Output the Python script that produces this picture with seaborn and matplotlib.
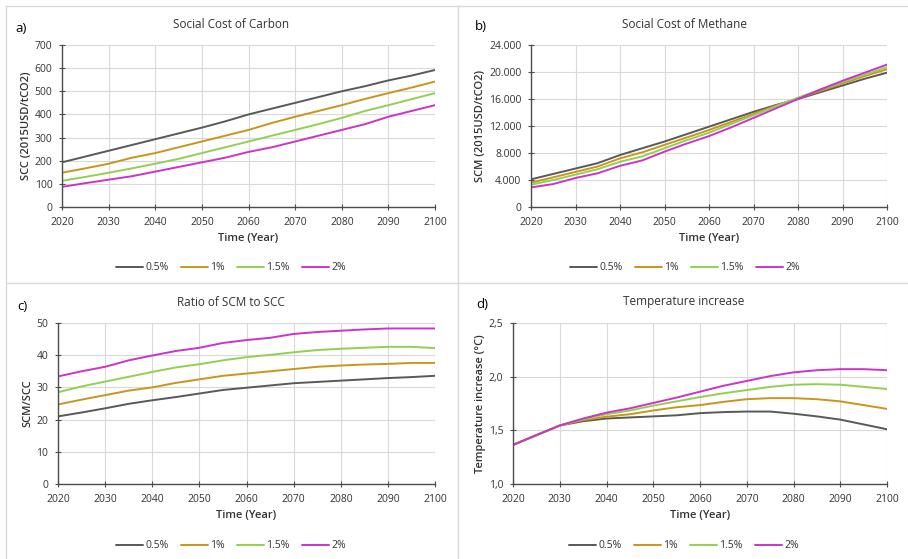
import matplotlib
matplotlib.use("Agg")
import matplotlib.pyplot as plt
import numpy as np
import pandas as pd
import seaborn as sns
from matplotlib.lines import Line2D
from matplotlib.ticker import FuncFormatter

years = list(range(2020, 2101, 5))
scenarios = ["0.5%", "1%", "1.5%", "2%"]

scc_05 = [193, 218, 243, 268, 293, 318, 343, 370, 400, 425, 450, 475, 500, 522, 547, 568, 592]
scc_10 = [148, 167, 187, 213, 233, 258, 283, 308, 333, 363, 390, 415, 440, 467, 492, 516, 542]
scc_15 = [113, 130, 148, 167, 187, 208, 233, 258, 283, 308, 333, 358, 385, 415, 440, 466, 492]
scc_20 = [87, 103, 118, 133, 153, 173, 193, 213, 238, 258, 283, 308, 333, 358, 390, 415, 440]

scm_05 = [4100, 4900, 5700, 6500, 7700, 8700, 9700, 10800, 11900, 13000, 14100, 15100, 16000, 17000, 18000, 19000, 19900]
scm_10 = [3600, 4400, 5200, 6000, 7200, 8100, 9200, 10300, 11400, 12600, 13800, 15000, 16100, 17200, 18300, 19400, 20400]
scm_15 = [3300, 4000, 4800, 5600, 6700, 7500, 8700, 9900, 11000, 12300, 13600, 14900, 16200, 17400, 18500, 19600, 20700]
scm_20 = [2900, 3400, 4300, 5000, 6100, 6900, 8200, 9400, 10500, 11800, 13200, 14600, 16000, 17400, 18700, 19900, 21100]

ratio_05 = [21.0, 22.2, 23.5, 24.9, 26.0, 27.0, 28.1, 29.2, 29.9, 30.6, 31.3, 31.7, 32.1, 32.5, 32.9, 33.2, 33.6]
ratio_10 = [24.7, 26.2, 27.6, 29.0, 30.0, 31.4, 32.5, 33.6, 34.3, 35.0, 35.7, 36.4, 36.8, 37.1, 37.3, 37.6, 37.6]
ratio_15 = [28.5, 30.3, 31.8, 33.3, 34.8, 36.2, 37.2, 38.4, 39.4, 40.1, 40.9, 41.6, 42.0, 42.3, 42.6, 42.6, 42.2]
ratio_20 = [33.4, 35.0, 36.4, 38.4, 39.9, 41.3, 42.3, 43.8, 44.7, 45.4, 46.6, 47.2, 47.6, 48.0, 48.3, 48.3, 48.3]

temp_05 = [1.364, 1.455, 1.545, 1.585, 1.61, 1.62, 1.63, 1.64, 1.66, 1.67, 1.675, 1.675, 1.655, 1.63, 1.60, 1.555, 1.51]
temp_10 = [1.364, 1.455, 1.545, 1.595, 1.627, 1.65, 1.685, 1.715, 1.735, 1.765, 1.79, 1.80, 1.80, 1.79, 1.77, 1.735, 1.70]
temp_15 = [1.364, 1.455, 1.545, 1.605, 1.65, 1.685, 1.73, 1.77, 1.81, 1.845, 1.875, 1.905, 1.925, 1.93, 1.925, 1.905, 1.885]
temp_20 = [1.364, 1.455, 1.545, 1.61, 1.665, 1.705, 1.755, 1.805, 1.86, 1.915, 1.96, 2.005, 2.04, 2.06, 2.07, 2.07, 2.06]

palette = {"0.5%": "#595959", "1%": "#C9961A", "1.5%": "#92D050", "2%": "#CC33CC"}

sns.set_theme(style="white")
plt.rcParams["font.family"] = ["Open Sans", "DejaVu Sans"]

W, H = 908, 559
fig = plt.figure(figsize=(W / 100, H / 100), dpi=100)


def rect(x0, y0, x1, y1):
    return [x0 / W, 1 - y1 / H, (x1 - x0) / W, (y1 - y0) / H]


def long_df(series):
    rows = []
    for name, vals in zip(scenarios, series):
        for yr, v in zip(years, vals):
            rows.append({"year": yr, "value": v, "scenario": name})
    return pd.DataFrame(rows)


panels = [
    dict(series=[scc_05, scc_10, scc_15, scc_20], box=(62, 45, 435, 207), ylim=(0, 700), step=100,
         fmt=lambda v, p: f"{v:.0f}", ylabel="SCC (2015USD/tCO2)", title="Social Cost of Carbon",
         tag="a)", tx=231, ty=24, lx=21, ly=28, legy=268),
    dict(series=[scm_05, scm_10, scm_15, scm_20], box=(531, 45, 887, 207), ylim=(0, 24000), step=4000,
         fmt=lambda v, p: f"{v:,.0f}".replace(",", "."), ylabel="SCM (2015USD/tCO2)",
         title="Social Cost of Methane", tag="b)", tx=685, ty=24, lx=481, ly=26, legy=268),
    dict(series=[ratio_05, ratio_10, ratio_15, ratio_20], box=(58, 323, 435, 484), ylim=(0, 50), step=10,
         fmt=lambda v, p: f"{v:.0f}", ylabel="SCM/SCC", title="Ratio of SCM to SCC",
         tag="c)", tx=231, ty=303, lx=22, ly=306, legy=546),
    dict(series=[temp_05, temp_10, temp_15, temp_20], box=(513, 323, 887, 484), ylim=(1.0, 2.5), step=0.5,
         fmt=lambda v, p: f"{v:.1f}".replace(".", ","), ylabel="Temperature increase (°C)",
         title="Temperature increase", tag="d)", tx=684, ty=302, lx=482, ly=305, legy=546),
]

text_col = "#333333"
for pn in panels:
    ax = fig.add_axes(rect(*pn["box"]))
    df = long_df(pn["series"])
    sns.lineplot(data=df, x="year", y="value", hue="scenario", palette=palette,
                 hue_order=scenarios, linewidth=1.4, legend=False, ax=ax)
    ax.set_xlim(2020, 2100)
    ax.set_ylim(*pn["ylim"])
    ax.set_xticks(range(2020, 2101, 10))
    ax.set_yticks(np.arange(pn["ylim"][0], pn["ylim"][1] + pn["step"] / 2, pn["step"]))
    ax.yaxis.set_major_formatter(FuncFormatter(pn["fmt"]))
    ax.grid(True, color="#D9D9D9", linewidth=0.8)
    for s in ["top", "right"]:
        ax.spines[s].set_visible(False)
    for s in ["left", "bottom"]:
        ax.spines[s].set_color("#4D4D4D")
        ax.spines[s].set_linewidth(1.0)
    ax.tick_params(axis="both", which="major", direction="inout", length=4, width=0.8,
                   color="#4D4D4D", labelsize=7.5, labelcolor=text_col,
                   left=True, bottom=True)
    ax.tick_params(axis="y", pad=5)
    ax.tick_params(axis="x", pad=5)
    ax.set_xlabel("Time (Year)", fontsize=8, fontweight="semibold", color=text_col, labelpad=4)
    ax.set_ylabel(pn["ylabel"], fontsize=8, fontweight="semibold", color=text_col, labelpad=2)
    fig.text(pn["tx"] / W, 1 - pn["ty"] / H, pn["title"], ha="center", va="center",
             fontsize=8.5, color=text_col)
    fig.text(pn["lx"] / W, 1 - pn["ly"] / H, pn["tag"], ha="center", va="center",
             fontsize=9.5, color="black")
    handles = [Line2D([0], [0], color=palette[s], lw=1.4) for s in scenarios]
    fig.legend(handles, scenarios, loc="center", ncol=4, frameon=False,
               bbox_to_anchor=(pn["tx"] / W, 1 - pn["legy"] / H), fontsize=7.5,
               handlelength=2.6, handletextpad=0.2, columnspacing=1.2,
               labelcolor=text_col)

# panel borders
border = "#D9D9D9"
fig.add_artist(Line2D([6 / W, 6 / W], [0, 1 - 6 / H], color=border, lw=1.0))
fig.add_artist(Line2D([6 / W, 1], [1 - 6 / H, 1 - 6 / H], color=border, lw=1.0))
fig.add_artist(Line2D([458 / W, 458 / W], [0, 1 - 6 / H], color=border, lw=1.0))
fig.add_artist(Line2D([6 / W, 1], [1 - 283 / H, 1 - 283 / H], color=border, lw=1.0))

fig.savefig("out.png", dpi=100)
